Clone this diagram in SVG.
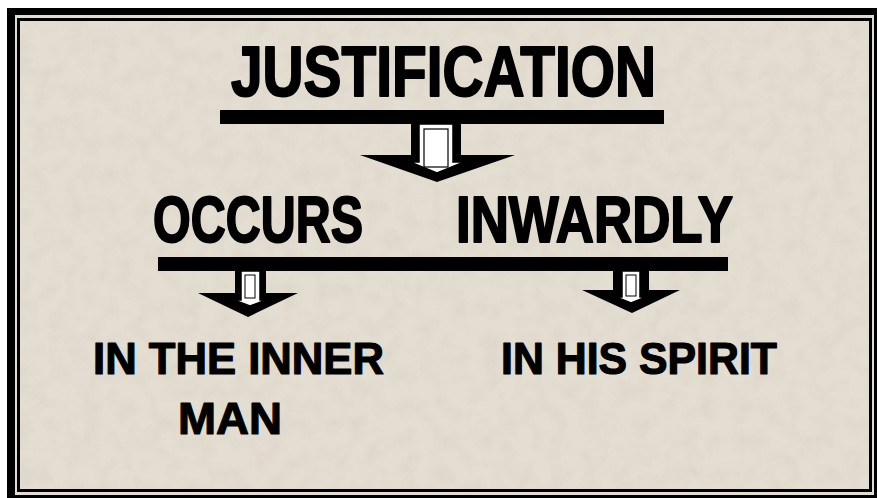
<svg xmlns="http://www.w3.org/2000/svg" width="877" height="498" viewBox="0 0 877 498">
<style>
.t{font-family:"Liberation Sans",Arial,sans-serif;font-weight:bold;fill:#000;stroke:#000;stroke-linejoin:round}
.big{stroke-width:2}
.sm{stroke-width:1.2}
.blk{fill:#000}
.wht{fill:#fff;stroke:#000;stroke-width:1.5}
</style>
<defs>
<filter id="tex" x="0" y="0" width="100%" height="100%">
<feTurbulence type="fractalNoise" baseFrequency="0.06" numOctaves="4" seed="7"/>
<feColorMatrix type="matrix" values="0 0 0 0 0.55  0 0 0 0 0.5  0 0 0 0 0.42  0 0 0 -1.2 0.75"/>
</filter>
</defs>
<rect x="0" y="0" width="877" height="498" fill="#ffffff"/>
<rect x="7" y="8" width="870" height="490" fill="#000"/>
<rect x="15" y="15" width="859" height="480" fill="#e2dbcf"/>
<rect x="17" y="18" width="855" height="474" fill="#000"/>
<rect x="20" y="21" width="849" height="468" fill="#e4ddd1"/>
<rect x="20" y="21" width="849" height="468" filter="url(#tex)" opacity="0.3"/>
<g id="connectors">
<rect class="blk" x="220" y="110" width="444" height="14"/>
<polygon class="blk" points="411,124 461,124 461,155 515,155 437,182 360,155 411,155"/>
<polygon class="wht" points="419,124 453,124 453,162 464,162 437,173 410,162 419,162"/>
<rect x="424" y="129" width="24" height="38" fill="#fff" stroke="#000" stroke-width="1.2"/>
<rect class="blk" x="158" y="257" width="570" height="14"/>
<polygon class="blk" points="235,271 266,271 266,293 298,293 248,317 198,293 235,293"/>
<polygon class="wht" points="241,271 260,271 260,300 266,300 250,306 234,300 241,300"/>
<rect x="245" y="275" width="10" height="23" fill="#fff" stroke="#000" stroke-width="1"/>
<polygon class="blk" points="613,271 649,271 649,290 680,290 632,313 582,290 613,290"/>
<polygon class="wht" points="622,271 640,271 640,297 646,297 631,303 616,297 622,297"/>
<rect x="626" y="275" width="10" height="21" fill="#fff" stroke="#000" stroke-width="1"/>
</g>
<g id="node-justification"><text class="t big" x="231" y="96" font-size="70" textLength="425" lengthAdjust="spacingAndGlyphs">JUSTIFICATION</text></g>
<g id="node-occurs"><text class="t big" x="153" y="242" font-size="64" textLength="210" lengthAdjust="spacingAndGlyphs">OCCURS</text></g>
<g id="node-inwardly"><text class="t big" x="456" y="242" font-size="64" textLength="277" lengthAdjust="spacingAndGlyphs">INWARDLY</text></g>
<g id="node-inner-man">
<text class="t sm" x="93" y="374" font-size="45" textLength="291" lengthAdjust="spacingAndGlyphs">IN THE INNER</text>
<text class="t sm" x="178" y="434" font-size="45" textLength="104" lengthAdjust="spacingAndGlyphs">MAN</text>
</g>
<g id="node-spirit"><text class="t sm" x="501" y="374" font-size="45" textLength="276" lengthAdjust="spacingAndGlyphs">IN HIS SPIRIT</text></g>
</svg>
